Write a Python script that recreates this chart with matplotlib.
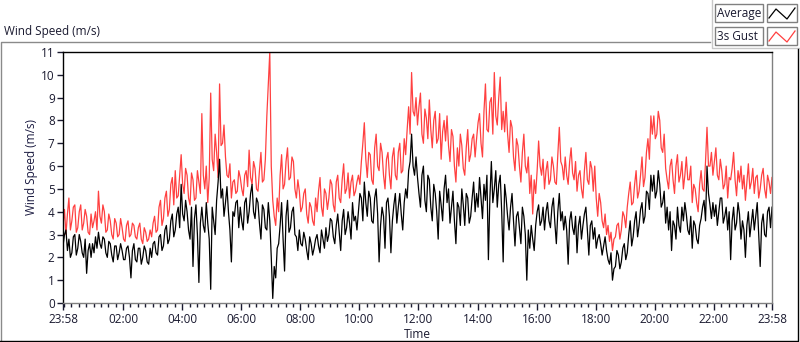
import numpy as np
import matplotlib
matplotlib.use("Agg")
import matplotlib.pyplot as plt
from matplotlib.lines import Line2D
from matplotlib.patches import Rectangle

plt.rcParams["font.family"] = ["Open Sans", "DejaVu Sans"]

# gust / average, one row per hour from 23:58.
# *_rows are the samples at +0, +6, +12 ... min, *_mid_rows the ones 3 min later
gust_rows = [
    [3.4, 3.0, 4.6, 3.6, 4.3, 3.3, 4.3, 3.5, 3.8, 3.0],
    [3.3, 4.0, 4.9, 3.5, 4.0, 3.2, 3.6, 2.8, 3.5, 3.0],
    [3.3, 2.7, 3.6, 3.0, 3.4, 2.8, 3.5, 2.6, 3.1, 2.8],
    [2.9, 3.8, 3.2, 4.5, 3.7, 4.9, 4.1, 5.5, 5.8, 4.7],
    [6.5, 4.8, 5.6, 4.3, 5.4, 4.6, 5.3, 8.3, 5.0, 4.4],
    [9.2, 5.8, 6.6, 9.6, 7.0, 6.4, 5.5, 4.6, 5.4, 4.9],
    [5.5, 4.7, 5.8, 6.7, 5.2, 5.9, 4.9, 6.6, 5.4, 8.2],
    [11.0, 4.5, 3.4, 4.0, 6.5, 5.2, 6.8, 5.5, 6.2, 4.6],
    [4.9, 4.2, 5.0, 3.5, 4.2, 3.4, 4.0, 5.5, 3.8, 4.8],
    [4.6, 5.2, 4.0, 5.6, 4.4, 6.1, 5.0, 4.6, 5.6, 4.9],
    [5.6, 6.2, 7.9, 5.5, 6.5, 5.2, 7.4, 5.8, 6.6, 5.0],
    [6.6, 5.0, 6.8, 5.4, 7.0, 5.8, 6.5, 8.6, 10.1, 8.2],
    [7.8, 9.2, 7.0, 8.1, 8.9, 6.8, 8.4, 7.2, 6.3, 8.0],
    [8.2, 6.2, 7.3, 5.3, 6.0, 6.9, 5.6, 7.6, 6.5, 7.4],
    [7.2, 8.3, 6.4, 9.6, 7.5, 9.0, 10.1, 7.8, 9.9, 8.4],
    [8.8, 6.6, 7.7, 5.8, 6.9, 5.3, 7.4, 5.7, 4.8, 3.9],
    [4.8, 7.1, 5.6, 5.0, 6.2, 5.4, 6.0, 5.2, 7.7, 6.0],
    [6.4, 5.2, 6.8, 5.4, 4.9, 5.8, 4.6, 6.6, 5.2, 5.9],
    [6.0, 3.8, 4.4, 3.3, 3.0, 2.7, 2.3, 2.9, 3.5, 3.2],
    [3.8, 4.2, 5.3, 4.4, 5.8, 4.9, 6.4, 5.5, 7.2, 8.2],
    [8.2, 7.4, 8.0, 6.6, 5.9, 5.0, 6.3, 4.8, 6.5, 5.6],
    [5.0, 6.4, 5.4, 4.4, 5.0, 4.0, 5.8, 4.9, 7.7, 6.0],
    [5.6, 6.8, 5.4, 5.8, 5.2, 4.6, 5.4, 6.6, 4.7, 5.3],
    [5.0, 4.5, 6.1, 5.3, 4.8, 5.6, 5.0, 5.9, 4.6, 5.3],
]
gust_mid_rows = [
    [4.1, 3.9, 3.2, 4.2, 3.1, 4.0, 3.2, 4.1, 3.1, 3.9],
    [3.6, 3.2, 3.8, 4.3, 3.1, 3.9, 3.0, 3.7, 2.9, 3.7],
    [2.8, 3.4, 2.9, 3.5, 2.9, 3.3, 2.8, 3.3, 2.7, 3.2],
    [3.5, 3.1, 4.2, 3.4, 4.6, 3.8, 5.2, 4.3, 4.6, 5.6],
    [5.2, 5.9, 4.6, 5.7, 4.5, 5.8, 4.8, 5.6, 6.0, 5.5],
    [6.3, 7.4, 5.5, 6.9, 7.8, 5.6, 6.1, 5.3, 4.8, 5.8],
    [5.0, 5.6, 5.1, 5.5, 6.2, 5.0, 5.8, 5.3, 6.3, 9.6],
    [6.0, 3.8, 4.6, 5.6, 5.0, 6.2, 5.4, 6.4, 5.0, 5.4],
    [4.0, 4.8, 3.9, 4.4, 3.6, 4.6, 4.9, 4.2, 5.0, 4.1],
    [5.4, 4.3, 5.3, 4.6, 5.4, 4.8, 5.7, 5.3, 4.7, 5.3],
    [5.2, 7.0, 6.3, 6.6, 5.4, 6.8, 6.0, 7.0, 5.6, 6.3],
    [5.6, 6.4, 5.6, 6.6, 5.7, 7.2, 7.6, 7.4, 8.4, 9.0],
    [8.6, 7.4, 8.5, 7.2, 7.6, 8.0, 7.0, 8.3, 7.5, 7.1],
    [6.9, 7.6, 6.0, 6.8, 7.4, 5.9, 6.8, 6.2, 7.2, 6.4],
    [7.9, 7.0, 8.4, 7.6, 8.8, 7.4, 8.2, 9.0, 7.6, 7.5],
    [7.4, 8.0, 6.4, 7.2, 6.0, 6.6, 6.0, 6.4, 5.6, 5.4],
    [5.8, 6.0, 6.3, 5.8, 5.2, 6.4, 5.3, 6.5, 6.2, 5.4],
    [5.6, 6.2, 5.7, 6.2, 5.6, 5.0, 5.8, 5.4, 6.2, 4.9],
    [4.6, 4.8, 3.6, 3.9, 3.4, 3.1, 2.8, 3.4, 2.8, 4.0],
    [3.3, 4.8, 4.3, 5.2, 4.6, 5.6, 5.1, 6.6, 6.3, 7.4],
    [7.2, 8.4, 6.8, 7.4, 5.4, 6.0, 5.4, 6.0, 5.3, 6.2],
    [5.6, 5.4, 6.0, 5.2, 4.4, 5.2, 5.0, 6.2, 6.0, 6.6],
    [6.2, 5.6, 6.3, 5.0, 6.0, 5.5, 5.9, 5.4, 5.8, 6.0],
    [5.6, 5.3, 5.0, 5.9, 5.5, 4.6, 5.6, 5.0, 5.6, 4.8],
]
gust_last = 5.5

avg_rows = [
    [2.5, 3.2, 2.8, 2.2, 3.0, 2.4, 2.7, 2.0, 1.3, 2.6],
    [2.6, 2.9, 3.1, 2.4, 2.8, 2.0, 2.6, 1.8, 2.5, 2.2],
    [2.3, 1.9, 2.5, 1.1, 2.6, 1.8, 2.4, 2.0, 2.3, 1.7],
    [2.0, 2.7, 2.1, 3.0, 2.5, 3.4, 2.8, 3.9, 3.2, 4.2],
    [5.2, 3.6, 4.0, 2.8, 1.6, 4.3, 0.9, 4.2, 3.1, 3.5],
    [0.6, 3.6, 4.5, 6.3, 5.0, 4.4, 4.0, 1.8, 3.8, 4.5],
    [4.2, 3.2, 4.6, 4.0, 5.2, 3.7, 4.4, 2.8, 4.1, 3.2],
    [3.6, 0.2, 1.1, 2.6, 4.4, 1.4, 4.5, 3.3, 4.2, 2.9],
    [3.2, 2.5, 2.8, 1.9, 2.6, 2.4, 3.0, 2.2, 2.8, 3.3],
    [3.0, 3.6, 2.6, 3.9, 2.3, 4.1, 3.3, 3.5, 4.4, 3.8],
    [4.0, 4.6, 5.3, 3.8, 4.6, 3.5, 5.0, 1.8, 4.2, 2.4],
    [4.6, 2.2, 4.3, 3.5, 4.8, 3.2, 5.0, 5.8, 7.4, 5.6],
    [5.5, 4.2, 6.0, 4.0, 5.4, 3.6, 4.8, 2.8, 4.3, 5.0],
    [4.4, 3.5, 4.9, 2.6, 4.2, 5.0, 3.4, 4.6, 3.8, 5.3],
    [4.8, 5.5, 3.7, 4.5, 1.9, 6.2, 5.0, 4.2, 5.6, 1.8],
    [4.6, 3.2, 4.8, 2.5, 4.0, 2.6, 3.8, 1.0, 2.4, 2.8],
    [3.4, 4.3, 3.6, 3.2, 4.4, 3.3, 4.6, 2.6, 4.8, 4.0],
    [3.8, 1.7, 4.0, 3.0, 2.2, 3.8, 3.4, 4.2, 2.1, 3.6],
    [3.3, 2.8, 2.6, 2.5, 2.3, 1.7, 1.0, 1.6, 2.1, 1.8],
    [2.6, 2.2, 3.6, 2.9, 4.0, 3.4, 4.4, 3.8, 4.8, 5.6],
    [5.6, 4.9, 5.2, 4.4, 3.5, 3.2, 2.3, 3.4, 4.2, 3.1],
    [3.6, 3.9, 3.0, 2.4, 3.4, 2.6, 3.7, 4.5, 6.0, 4.3],
    [4.4, 4.3, 4.0, 4.6, 3.8, 3.2, 1.9, 4.2, 3.5, 3.9],
    [3.6, 2.0, 4.0, 3.5, 3.2, 4.4, 1.6, 3.9, 2.9, 4.2],
]
avg_mid_rows = [
    [3.0, 2.3, 2.0, 2.9, 2.1, 3.0, 2.2, 2.8, 2.3, 2.0],
    [2.2, 2.4, 2.6, 2.9, 2.2, 2.7, 2.1, 2.5, 1.9, 2.6],
    [1.9, 2.4, 2.0, 2.3, 1.9, 2.4, 1.7, 2.5, 1.8, 2.4],
    [2.6, 2.2, 2.9, 2.3, 3.2, 2.6, 3.6, 2.9, 3.9, 3.3],
    [3.9, 4.5, 3.2, 4.2, 3.7, 3.0, 3.5, 3.4, 4.4, 2.8],
    [4.2, 3.0, 5.3, 4.6, 3.8, 5.1, 3.2, 4.0, 4.4, 3.3],
    [3.6, 4.4, 3.5, 4.8, 4.0, 4.6, 3.5, 4.3, 3.3, 4.4],
    [2.0, 1.6, 2.4, 3.4, 2.8, 3.8, 3.1, 4.0, 3.0, 2.3],
    [2.6, 3.1, 2.3, 2.9, 2.1, 2.8, 2.5, 3.2, 2.4, 2.7],
    [3.7, 2.9, 3.4, 3.1, 3.6, 3.0, 4.0, 2.8, 3.6, 3.2],
    [4.8, 3.6, 4.4, 4.9, 3.6, 4.6, 3.9, 3.4, 3.8, 4.4],
    [3.8, 3.6, 4.8, 4.2, 3.9, 4.4, 4.6, 6.2, 6.0, 6.4],
    [4.8, 5.6, 4.5, 5.6, 4.2, 5.2, 4.0, 4.9, 3.6, 5.6],
    [5.0, 4.2, 3.6, 4.4, 3.4, 4.3, 4.8, 3.5, 4.6, 4.0],
    [4.2, 4.6, 5.2, 5.6, 4.6, 4.4, 5.8, 5.2, 4.0, 5.2],
    [3.8, 4.2, 3.6, 3.8, 3.3, 4.2, 3.0, 3.2, 3.4, 2.3],
    [4.0, 3.4, 4.2, 4.0, 3.6, 4.2, 3.5, 4.0, 3.6, 3.2],
    [3.2, 3.6, 3.3, 3.8, 3.4, 2.8, 3.9, 3.2, 3.4, 2.8],
    [2.4, 3.0, 2.1, 2.9, 1.9, 2.2, 1.5, 2.3, 1.5, 2.4],
    [1.9, 3.0, 2.5, 3.6, 2.9, 4.1, 3.5, 4.9, 4.1, 4.9],
    [4.6, 5.8, 4.2, 4.9, 4.2, 4.0, 3.6, 2.8, 3.4, 4.2],
    [4.4, 3.2, 3.8, 3.6, 2.8, 3.4, 4.2, 3.6, 4.8, 3.7],
    [3.8, 3.4, 4.6, 3.5, 4.2, 4.0, 3.6, 3.2, 4.4, 2.8],
    [3.2, 3.4, 2.9, 4.1, 3.8, 3.0, 3.5, 3.0, 4.0, 3.3],
]
avg_last = 4.2

tick_labels = ["23:58", "02:00", "04:00", "06:00", "08:00", "10:00",
               "12:00", "14:00", "16:00", "18:00", "20:00", "22:00", "23:58"]


def interleave(rows, mids, last):
    out = []
    for r, m in zip(rows, mids):
        for a, b in zip(r, m):
            out += [a, b]
    return out + [last]


gust = interleave(gust_rows, gust_mid_rows, gust_last)
avg = interleave(avg_rows, avg_mid_rows, avg_last)
minutes = np.arange(len(gust)) * 3  # minutes after 23:58

W, H = 800, 342
def fx(x): return x / W
def fy(y): return 1 - y / H

fig = plt.figure(figsize=(8, 3.42), dpi=100)
fig.patch.set_facecolor("white")
ax = fig.add_axes([fx(63), fy(303), (772 - 63) / W, (303 - 52) / H])

ax.plot(minutes, gust, color="#ff4040", lw=0.9)
ax.plot(minutes, avg, color="black", lw=0.9)

ax.set_xlim(0, 1440)
ax.set_ylim(0, 11)
ax.set_yticks(range(0, 12))
major = [0] + [2 + 120 * k for k in range(1, 12)] + [1440]
ax.set_xticks(major)
ax.set_xticklabels(tick_labels)
ax.set_xticks([2 + 15 * k for k in range(96)], minor=True)
ax.tick_params(axis="x", which="major", length=5, width=1, pad=2,
               labelsize=8.5, colors="#1a1a30")
ax.tick_params(axis="x", which="minor", length=3, width=1, color="#1a1a30")
ax.tick_params(axis="y", length=4, width=1, pad=2, labelsize=8.5, colors="#1a1a30")

for side in ("left", "top"):
    ax.spines[side].set_color("black")
for side in ("right", "bottom"):
    ax.spines[side].set_color("#808080")
for sp in ax.spines.values():
    sp.set_linewidth(1)

fig.text(fx(31), fy(167), "Wind Speed (m/s)", rotation=90, ha="center",
         va="center", fontsize=8.5, color="#1a1a40")
fig.text(fx(417), fy(334), "Time", ha="center", va="center",
         fontsize=8.5, color="#1a1a30")
fig.text(fx(4), fy(32), "Wind Speed (m/s)", ha="left", va="center",
         fontsize=8.5, color="#1a1a30")

# panel frame
gray = "#8a8a8a"
fig.add_artist(Line2D([fx(1), fx(1), fx(710)], [fy(341), fy(42), fy(42)],
                      color=gray, lw=1, transform=fig.transFigure))
fig.add_artist(Line2D([fx(712), fx(712), fx(800)], [fy(0), fy(48), fy(48)],
                      color="#c8c8c8", lw=1, transform=fig.transFigure))
fig.add_artist(Line2D([fx(0), fx(798), fx(798)], [fy(341), fy(341), fy(49)],
                      color="black", lw=1, transform=fig.transFigure))

# legend
for i, (name, col) in enumerate([("Average", "black"), ("3s Gust", "#ff4040")]):
    top = 4 + 23 * i
    fig.add_artist(Rectangle((fx(715), fy(top + 18)), 48 / W, 18 / H,
                             transform=fig.transFigure, fc="white",
                             ec="#808080", lw=1))
    fig.add_artist(Rectangle((fx(767), fy(top + 18)), 30 / W, 18 / H,
                             transform=fig.transFigure, fc="white",
                             ec="#808080", lw=1))
    fig.text(fx(717), fy(top + 9), name, ha="left", va="center",
             fontsize=8.5, color="#1a1a30")
    fig.add_artist(Line2D([fx(769), fx(776), fx(787), fx(795)],
                          [fy(top + 14), fy(top + 5), fy(top + 15), fy(top + 4)],
                          color=col, lw=0.9, transform=fig.transFigure))

fig.savefig("out.png", dpi=100)
